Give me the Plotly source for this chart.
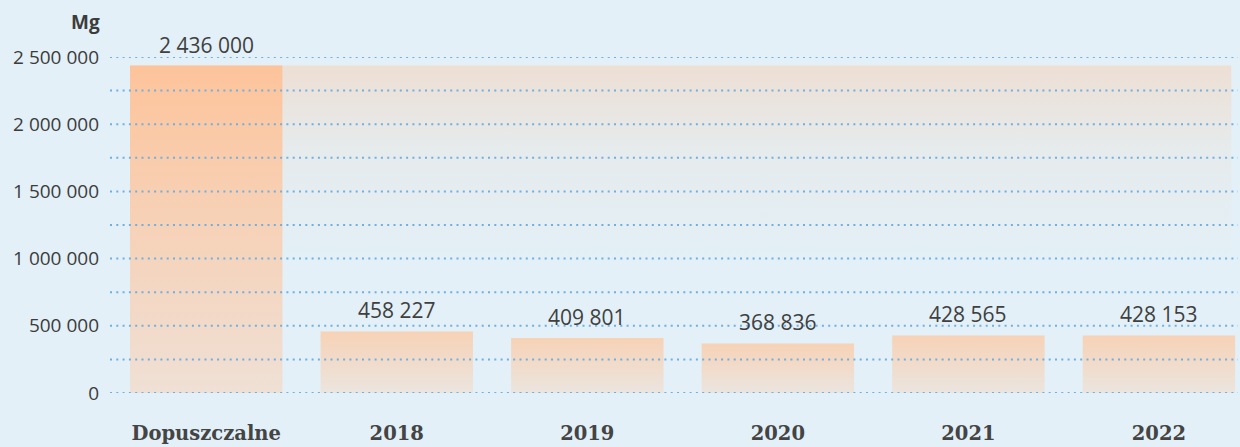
import plotly.graph_objects as go

categories = ["Dopuszczalne", "2018", "2019", "2020", "2021", "2022"]
values = [2436000, 458227, 409801, 368836, 428565, 428153]
y_ticks = [0, 500000, 1000000, 1500000, 2000000, 2500000]
grid_values = [i * 250000 for i in range(11)]

def fmt(v):
    return f"{v:,}".replace(",", " ")

fig = go.Figure()

half = 0.4
# faint background band at the permitted level
limit = values[0]
fig.add_trace(go.Scatter(
    x=[-half, len(categories) - 1 + half - 0.02, len(categories) - 1 + half - 0.02, -half, -half],
    y=[0, 0, limit, limit, 0],
    mode="lines", fill="toself", line=dict(width=0),
    fillgradient=dict(type="vertical", start=0, stop=limit,
                      colorscale=[[0, "rgba(253,196,155,0)"], [0.4, "rgba(253,196,155,0.0)"],
                                  [0.75, "rgba(253,196,155,0.12)"], [1, "rgba(253,196,155,0.38)"]]),
    hoverinfo="skip", showlegend=False))

for i, (c, v) in enumerate(zip(categories, values)):
    if i == 0:
        cs = [[0, "#efe0d5"], [1, "#fdc49b"]]
    else:
        cs = [[0, "#ebe5df"], [1, "#f7d2b6"]]
    fig.add_trace(go.Scatter(
        x=[i - half, i + half, i + half, i - half, i - half],
        y=[0, 0, v, v, 0],
        mode="lines", fill="toself", line=dict(width=0),
        fillgradient=dict(type="vertical", colorscale=cs),
        name=c, showlegend=False, hoverinfo="skip"))
    fig.add_annotation(x=i, y=v, text=fmt(v), showarrow=False, yshift=21,
                       font=dict(family="Open Sans", size=21, color="#404040"))

for g in grid_values:
    fig.add_shape(type="line", xref="paper", x0=0, x1=1, yref="y", y0=g, y1=g,
                  line=dict(color="#6fb0e3", width=2, dash="2px,4.3px"), layer="above")

fig.add_annotation(xref="paper", yref="paper", x=-0.007, y=1.0, yshift=35,
                   xanchor="right", yanchor="middle", text="<b>Mg</b>", showarrow=False,
                   font=dict(family="Open Sans", size=19, color="#3c3c3c"))

fig.update_layout(
    width=1240, height=447,
    margin=dict(l=110, r=2, t=57, b=52),
    paper_bgcolor="#e3f0f7", plot_bgcolor="#e3f0f7",
    xaxis=dict(range=[-0.505, 5.415], tickvals=list(range(len(categories))), ticktext=categories,
               showgrid=False, zeroline=False, showline=False, ticks="",
               ticklabelstandoff=26,
               tickfont=dict(family="DejaVu Serif", size=19.5, color="#444444", weight="bold")),
    yaxis=dict(range=[0, 2500000], tickvals=y_ticks, ticktext=[fmt(t) for t in y_ticks],
               showgrid=False, zeroline=False, showline=False, ticks="",
               ticklabelstandoff=10,
               tickfont=dict(family="Open Sans", size=19, color="#3c3c3c")),
)

fig.write_html("out.html", config={"displayModeBar": False},
               post_script="document.body.style.margin='0';")
